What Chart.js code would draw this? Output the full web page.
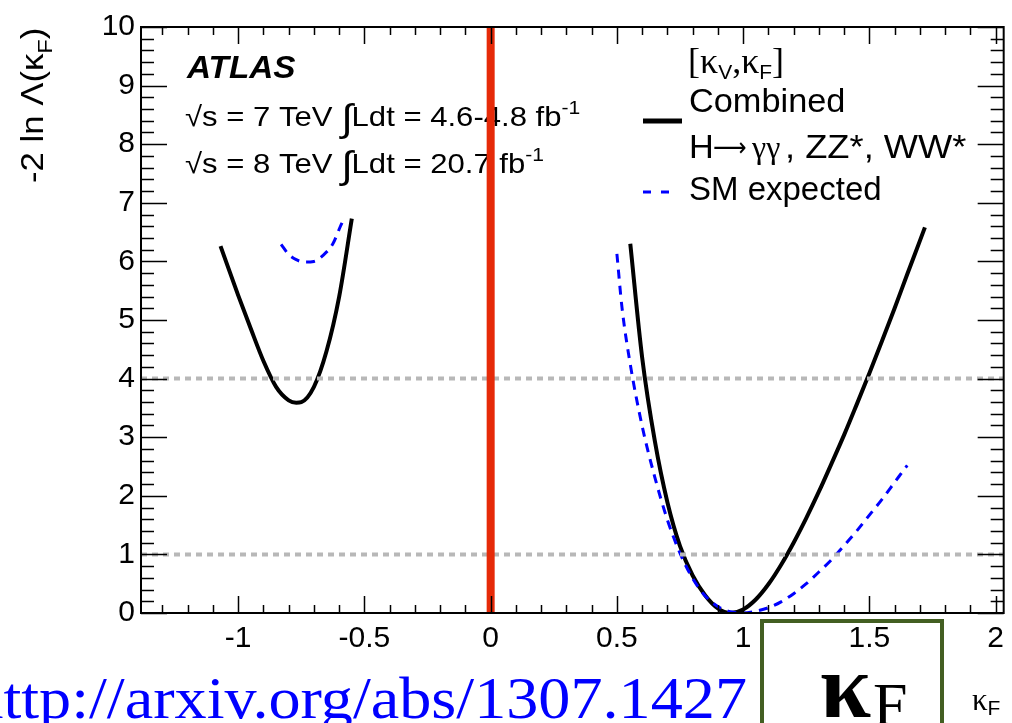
<!DOCTYPE html>
<html>
<head>
<meta charset="utf-8">
<script src="https://cdn.jsdelivr.net/npm/chart.js@4/dist/chart.umd.min.js"></script>
<style>
  html, body { margin: 0; padding: 0; background: #fff; }
  canvas { display: block; }
</style>
</head>
<body>
<canvas id="nll" width="1012" height="723"></canvas>
<script>
// -2 ln Lambda(kF) scan, combined fit vs SM expectation
const xRange = [-1.385, 2.032];
const yRange = [0, 10];
const xTickStep = 0.5, xMinorStep = 0.1;
const yTickStep = 1, yMinorStep = 0.2;

// combined H->gg, ZZ*, WW* (observed), two branches
const obsNegX = [-1.07, -1.0, -0.95, -0.9, -0.85, -0.8, -0.77, -0.75, -0.7, -0.65, -0.6, -0.55];
const obsNegY = [6.26, 5.42, 4.85, 4.3, 3.86, 3.63, 3.59, 3.6, 3.86, 4.47, 5.4, 6.73];
const obsPosX = [0.553, 0.6, 0.65, 0.7, 0.75, 0.8, 0.85, 0.9, 0.95, 1.0, 1.05, 1.1, 1.15, 1.2, 1.25, 1.3, 1.35, 1.4, 1.45, 1.5, 1.55, 1.6, 1.65, 1.7, 1.72];
const obsPosY = [6.3, 4.36, 2.94, 1.89, 1.14, 0.64, 0.3, 0.08, 0.0, 0.06, 0.23, 0.49, 0.82, 1.2, 1.62, 2.07, 2.55, 3.04, 3.56, 4.09, 4.64, 5.2, 5.78, 6.35, 6.58];

// SM expected
const expNegX = [-0.83, -0.8, -0.77, -0.74, -0.7, -0.665, -0.625, -0.595, -0.58];
const expNegY = [6.29, 6.12, 6.03, 5.99, 6.0, 6.1, 6.3, 6.6, 6.74];
const expPosX = [0.5, 0.52, 0.55, 0.6, 0.65, 0.7, 0.75, 0.8, 0.85, 0.9, 0.95, 1.0, 1.05, 1.1, 1.15, 1.2, 1.25, 1.3, 1.35, 1.4, 1.45, 1.5, 1.55, 1.6, 1.65];
const expPosY = [6.13, 5.22, 4.32, 3.19, 2.32, 1.59, 1.02, 0.59, 0.29, 0.11, 0.02, 0.0, 0.03, 0.09, 0.19, 0.33, 0.5, 0.7, 0.91, 1.15, 1.4, 1.67, 1.94, 2.23, 2.52];

// 1 and 2 sigma reference levels, SM-sign boundary
const refLevels = [1, 4];
const zeroLineX = 0;

const SANS = '"Liberation Sans", Arial, Helvetica, sans-serif';
const SERIF = '"Liberation Serif", "Times New Roman", serif';

const pts = (xs, ys) => xs.map((x, i) => ({x, y: ys[i]}));

// draws a row of text pieces, optionally stretched sideways
function drawRuns(ctx, x, y, runs, sx){
  sx = sx || 1;
  ctx.save();
  ctx.translate(x, y);
  ctx.scale(sx, 1);
  let cx = 0;
  runs.forEach(r=>{
    ctx.font = r.font;
    ctx.fillText(r.t, cx, r.dy || 0);
    cx += ctx.measureText(r.t).width + (r.gap || 0);
  });
  ctx.restore();
  return x + cx * sx;
}

const rootFrame = {
  id: 'rootFrame',
  beforeDatasetsDraw(chart){
    const ctx = chart.ctx;
    ctx.save();
    ctx.fillStyle = '#000';
    ctx.textAlign = 'left';
    ctx.textBaseline = 'alphabetic';

    drawRuns(ctx, 187, 78, [{t: 'ATLAS', font: `italic bold 32px ${SANS}`}], 1.04);

    const f28 = `28px ${SANS}`;
    [['7', '4.6-4.8', 126], ['8', '20.7', 173]].forEach(([e, lumi, y])=>{
      drawRuns(ctx, 185, y, [
        {t: `\u221As = ${e} TeV `, font: f28},
        {t: '\u222B', font: `38px ${SANS}`, dy: 5, gap: -1},
        {t: `Ldt = ${lumi} fb`, font: f28},
        {t: '-1', font: `19px ${SANS}`, dy: -12}
      ], 1.11);
    });

    // legend
    const sub = `21px ${SANS}`, sym = `36px ${SERIF}`;
    drawRuns(ctx, 688, 73, [
      {t: '[\u03BA', font: sym}, {t: 'V', font: sub, dy: 6},
      {t: ',\u03BA', font: sym}, {t: 'F', font: sub, dy: 6},
      {t: ']', font: sym}
    ]);
    drawRuns(ctx, 689, 112, [{t: 'Combined', font: `33px ${SANS}`}], 1.04);
    drawRuns(ctx, 689, 158, [{t: 'H', font: `33px ${SANS}`}], 1.04);
    drawRuns(ctx, 713, 156, [{t: '\u27F6', font: `26px "DejaVu Sans", ${SANS}`}], 0.9);
    drawRuns(ctx, 752, 158, [{t: '\u03B3\u03B3', font: `32px ${SERIF}`}]);
    drawRuns(ctx, 785, 158, [{t: ', ZZ*, WW*', font: `33px ${SANS}`}], 1.1);
    drawRuns(ctx, 689, 200, [{t: 'SM expected', font: `33px ${SANS}`}], 1.0);

    ctx.lineCap = 'butt';
    ctx.strokeStyle = '#000';
    ctx.lineWidth = 5;
    ctx.beginPath(); ctx.moveTo(643, 121); ctx.lineTo(682, 121); ctx.stroke();
    ctx.strokeStyle = '#0000ff';
    ctx.lineWidth = 3;
    ctx.setLineDash([8, 10]);
    ctx.beginPath(); ctx.moveTo(643, 192); ctx.lineTo(674, 192); ctx.stroke();
    ctx.setLineDash([]);

    // y title, rotated
    ctx.save();
    ctx.translate(43, 183);
    ctx.rotate(-Math.PI / 2);
    drawRuns(ctx, 0, 0, [
      {t: '-2 ln \u039B(\u03BA', font: `31px ${SANS}`},
      {t: 'F', font: sub, dy: 9},
      {t: ')', font: `31px ${SANS}`}
    ], 1.12);
    ctx.restore();

    // x title
    drawRuns(ctx, 972, 710, [
      {t: '\u03BA', font: `31px ${SERIF}`},
      {t: 'F', font: sub, dy: 5}
    ]);

    // boxed kappa_F and the paper reference
    ctx.strokeStyle = '#435f22';
    ctx.lineWidth = 4;
    ctx.strokeRect(762, 621, 180, 120);
    drawRuns(ctx, 820, 717, [
      {t: '\u03BA', font: `bold 92px ${SERIF}`, gap: 2},
      {t: 'F', font: `62px ${SERIF}`, dy: 8}
    ]);

    const link = 'http://arxiv.org/abs/1307.1427';
    ctx.fillStyle = '#0000ff';
    ctx.font = `60px ${SERIF}`;
    const w = ctx.measureText(link).width * 1.07;
    drawRuns(ctx, 747 - w, 718, [{t: link, font: `60px ${SERIF}`}], 1.07);
    ctx.restore();
  },
  afterDatasetsDraw(chart){
    const {ctx, chartArea: a, scales: {x, y}} = chart;
    ctx.save();
    ctx.strokeStyle = '#000';
    ctx.lineWidth = 1.5;
    ctx.beginPath();
    // ticks on the x axis, bottom and top, pointing inward
    for (let v = Math.ceil(xRange[0] / xMinorStep) * xMinorStep; v <= xRange[1] + 1e-9; v += xMinorStep){
      const r = Math.round(v * 10) / 10;
      const major = Math.abs(r / xTickStep - Math.round(r / xTickStep)) < 1e-6;
      const len = major ? 17 : 8;
      const px = Math.round(x.getPixelForValue(r)) + 0.5;
      ctx.moveTo(px, a.bottom); ctx.lineTo(px, a.bottom - len);
      ctx.moveTo(px, a.top); ctx.lineTo(px, a.top + len);
    }
    // ticks on the y axis, left and right
    for (let v = yRange[0]; v <= yRange[1] + 1e-9; v += yMinorStep){
      const r = Math.round(v * 10) / 10;
      const major = Math.abs(r / yTickStep - Math.round(r / yTickStep)) < 1e-6;
      const len = major ? 26 : 13;
      const py = Math.round(y.getPixelForValue(r)) + 0.5;
      ctx.moveTo(a.left, py); ctx.lineTo(a.left + len, py);
      ctx.moveTo(a.right, py); ctx.lineTo(a.right - len, py);
    }
    ctx.stroke();
    ctx.lineWidth = 2;
    ctx.strokeRect(a.left, a.top, a.right - a.left, a.bottom - a.top);
    ctx.restore();
  }
};

const curve = (data, color, width, dash) => ({
  data, borderColor: color, borderWidth: width, borderDash: dash || [],
  pointRadius: 0, cubicInterpolationMode: 'monotone', fill: false
});

new Chart(document.getElementById('nll'), {
  type: 'line',
  data: {
    datasets: [
      curve([{x: zeroLineX, y: yRange[0]}, {x: zeroLineX, y: yRange[1]}], '#e62a08', 8),
      ...refLevels.map(l => curve([{x: xRange[0], y: l}, {x: xRange[1], y: l}], '#b8b8b8', 4, [6, 5])),
      curve(pts(expPosX, expPosY), '#0000ff', 3, [9, 7]),
      curve(pts(expNegX, expNegY), '#0000ff', 3, [9, 7]),
      curve(pts(obsPosX, obsPosY), '#000000', 4),
      curve(pts(obsNegX, obsNegY), '#000000', 4)
    ]
  },
  options: {
    responsive: false,
    animation: false,
    devicePixelRatio: 1,
    layout: {padding: {left: 0, top: 27, right: 6, bottom: 0}},
    plugins: {legend: {display: false}, tooltip: {enabled: false}},
    scales: {
      x: {
        type: 'linear', min: xRange[0], max: xRange[1],
        grid: {display: false, drawTicks: false}, border: {display: false},
        ticks: {stepSize: xTickStep, includeBounds: false, color: '#000', padding: 8,
                maxRotation: 0, autoSkip: false, font: {family: SANS, size: 30},
                callback: v => String(v)},
        afterFit(s){ s.height = 110; }
      },
      y: {
        type: 'linear', min: yRange[0], max: yRange[1],
        grid: {display: false, drawTicks: false}, border: {display: false},
        ticks: {stepSize: yTickStep, color: '#000', padding: 6,
                font: {family: SANS, size: 30}, callback: v => String(v)},
        afterFit(s){ s.width = 141; }
      }
    }
  },
  plugins: [rootFrame]
});
</script>
</body>
</html>
